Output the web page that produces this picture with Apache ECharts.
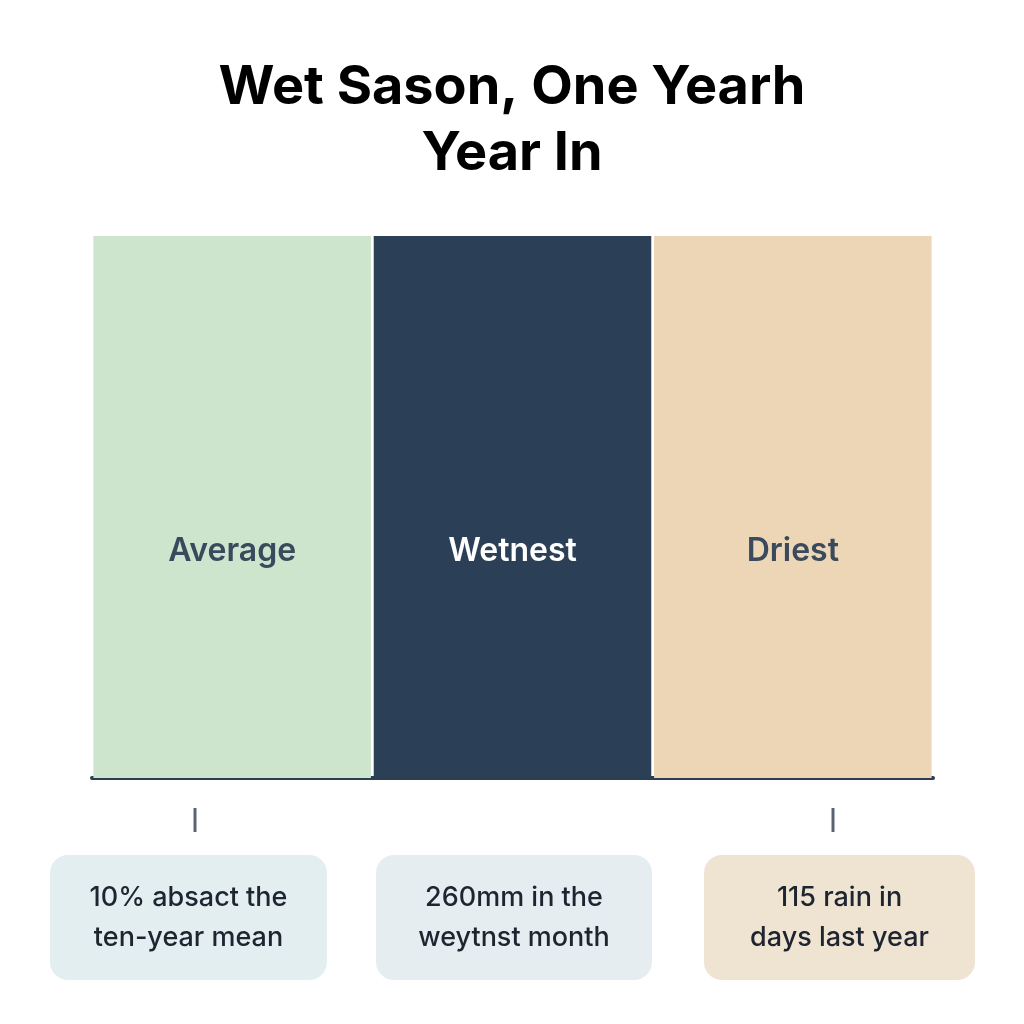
<!DOCTYPE html>
<html><head><meta charset="utf-8">
<script src="https://cdn.jsdelivr.net/npm/echarts@6/dist/echarts.min.js"></script>
<style>html,body{margin:0;padding:0;background:#fff}#c{width:1024px;height:1024px}</style>
</head><body><div id="c"></div>
<script>
const categories = ['Average', 'Wetnest', 'Driest'];
const values = [100, 100, 100];
const barColors = ['#cde5cc', '#2b3f57', '#ecd6b6'];
const labelColors = ['#3a4a5c', '#ffffff', '#3a4a5c'];
const noteTexts = ['10% absact the\nten-year mean', '260mm in the\nweytnst month', '115 rain in\ndays last year'];
const noteColors = ['#e3eef0', '#e6edf1', '#efe4d2'];
const titleText = 'Wet Sason, One Yearh\nYear In';

const chart = echarts.init(document.getElementById('c'));
const boxes = [[50, 277], [376, 276], [704, 271]];
const graphic = [];
boxes.forEach((b, i) => {
  graphic.push({type: 'rect', shape: {x: b[0], y: 855, width: b[1], height: 125, r: 18},
    style: {fill: noteColors[i]}});
  graphic.push({type: 'text', x: b[0] + b[1] / 2, y: 918,
    style: {text: noteTexts[i], font: '500 27px Inter', fill: '#1e2530', align: 'center',
      verticalAlign: 'middle', lineHeight: 40}});
});
[195, 833].forEach(x => graphic.push({type: 'rect', shape: {x: x - 1.5, y: 808, width: 3, height: 24},
  style: {fill: '#5a6470'}}));

chart.setOption({
  animation: false,
  title: {text: titleText, left: 'center', top: 50,
    textStyle: {fontFamily: 'Inter', fontWeight: 'bold', fontSize: 54, lineHeight: 66, color: '#000'}},
  grid: {left: 92, right: 91, top: 236, bottom: 246},
  xAxis: {type: 'category', data: categories,
    axisLine: {lineStyle: {color: '#2d3e50', width: 4}}, axisTick: {show: false}, axisLabel: {show: false}},
  yAxis: {type: 'value', min: 0, max: 100, show: false, splitLine: {show: false}},
  series: [{type: 'bar', barWidth: '99%',
    data: values.map((v, i) => ({value: v, itemStyle: {color: barColors[i]},
      label: {color: labelColors[i]}})),
    label: {show: true, position: 'inside', offset: [0, 44], formatter: p => categories[p.dataIndex],
      fontFamily: 'Inter', fontWeight: 600, fontSize: 32}}],
  graphic
});
</script></body></html>
